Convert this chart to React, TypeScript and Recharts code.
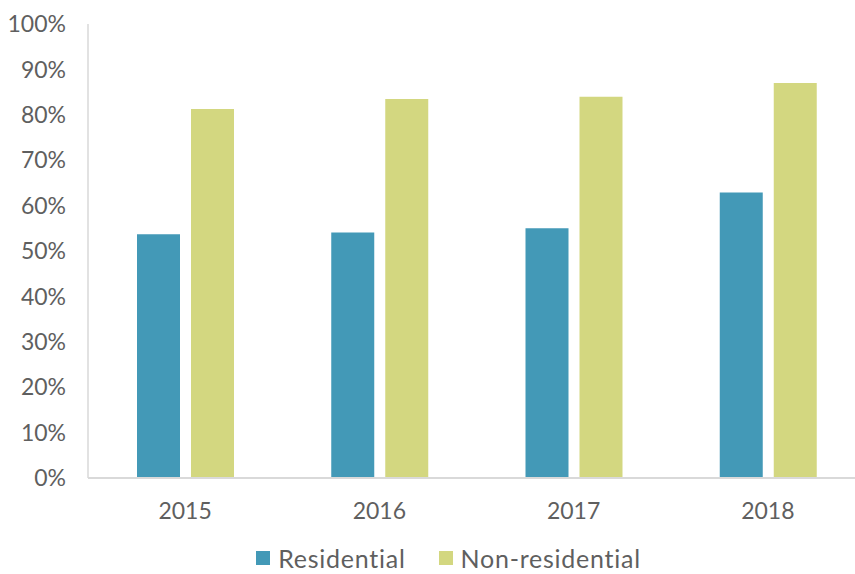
import React from 'react';
import { BarChart, Bar, XAxis, YAxis, Legend } from 'recharts';

const years = ['2015', '2016', '2017', '2018'];
const residential = [0.537, 0.541, 0.55, 0.629];
const nonResidential = [0.813, 0.835, 0.84, 0.87];
const yTicks = [0, 0.1, 0.2, 0.3, 0.4, 0.5, 0.6, 0.7, 0.8, 0.9, 1];

const SERIES = [
  { key: 'residential', name: 'Residential', color: '#4399B7' },
  { key: 'nonResidential', name: 'Non-residential', color: '#D3D780' },
];

const FONT = 'Lato, "Noto Sans", sans-serif';
const TEXT = '#5f5f5f';

const data = years.map((year, i) => ({
  year,
  residential: residential[i],
  nonResidential: nonResidential[i],
}));

// legend drawn as plain html so spacing can match the original
const LegendContent = () => (
  <div
    style={{
      display: 'flex',
      justifyContent: 'center',
      alignItems: 'center',
      height: 34,
      paddingTop: 2,
      paddingLeft: 32,
      boxSizing: 'border-box',
      fontFamily: FONT,
      fontSize: 25,
      letterSpacing: 0.75,
      color: TEXT,
    }}
  >
    {SERIES.map((s, i) => (
      <div
        key={s.key}
        style={{ display: 'flex', alignItems: 'center', marginLeft: i === 0 ? 0 : 33 }}
      >
        <span style={{ width: 14, height: 14, background: s.color, marginRight: 8, display: 'inline-block' }} />
        <span>{s.name}</span>
      </div>
    ))}
  </div>
);

const App = () => {
  return (
    <div style={{ position: 'absolute', top: 0, left: 0, width: 855, height: 574, overflow: 'hidden', background: '#fff' }}>
      <BarChart
        width={866}
        height={574}
        data={data}
        margin={{ top: 24, right: 1, bottom: 0, left: 0 }}
        barGap={11}
        barSize={43}
      >
        <XAxis
          dataKey="year"
          height={62}
          axisLine={{ stroke: '#D9D9D9', strokeWidth: 2 }}
          tickLine={false}
          tickMargin={19}
          tick={{ fill: TEXT, fontSize: 23, fontFamily: FONT }}
        />
        <YAxis
          width={88}
          domain={[0, 1]}
          ticks={yTicks}
          interval={0}
          axisLine={{ stroke: '#D9D9D9', strokeWidth: 1.5 }}
          tickLine={false}
          tickMargin={16}
          tickFormatter={(v: number) => `${Math.round(v * 100)}%`}
          tick={{ fill: TEXT, fontSize: 23, fontFamily: FONT }}
        />
        <Legend
          verticalAlign="bottom"
          wrapperStyle={{ height: 34, bottom: 0 }}
          content={<LegendContent />}
        />
        {SERIES.map((s) => (
          <Bar key={s.key} dataKey={s.key} name={s.name} fill={s.color} isAnimationActive={false} />
        ))}
      </BarChart>
    </div>
  );
};

export default App;
